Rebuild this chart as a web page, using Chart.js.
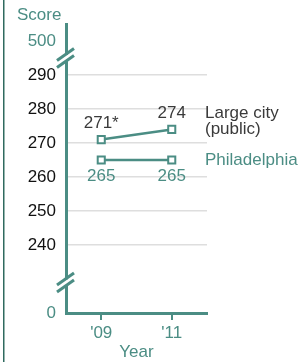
<!DOCTYPE html>
<html>
<head>
<meta charset="UTF-8">
<script src="https://cdn.jsdelivr.net/npm/chart.js@4"></script>
<style>
  html, body { margin: 0; padding: 0; background: #fff; }
  canvas { display: block; }
</style>
</head>
<body>
<canvas id="chart" width="301" height="362"></canvas>
<script>
// data
var years = [2009, 2011];
var yearLabels = ["'09", "'11"];
var largeCity = [271, 274];
var largeCityLabels = ['271*', '274'];
var philadelphia = [265, 265];
var philadelphiaLabels = ['265', '265'];
// y axis is broken: 220 stands for 0, 300 stands for 500
var yTicks = [220, 240, 250, 260, 270, 280, 290, 300];
var yTickText = { 220: '0', 300: '500' };
var breaks = [229, 295];

var teal = '#4b8d84';
var dark = '#3a3a3a';
var FONT = '"Liberation Sans", Arial, sans-serif';

var extras = {
  id: 'extras',
  beforeDraw: function(chart) {
    var c = chart.ctx;
    c.save();
    c.fillStyle = '#2f6a5f';
    c.fillRect(3, 0, 1.5, chart.height);
    c.restore();
  },
  afterDraw: function(chart) {
    var c = chart.ctx, xs = chart.scales.x, ys = chart.scales.y;
    var ax = chart.chartArea.left;
    c.save();
    // axis breaks
    breaks.forEach(function(v) {
      var y = ys.getPixelForValue(v);
      c.fillStyle = '#fff';
      c.fillRect(ax - 3, y - 3, 6, 6);
      c.strokeStyle = teal;
      c.lineWidth = 3;
      [-3.5, 3.5].forEach(function(o) {
        c.beginPath();
        c.moveTo(ax - 9, y + o + 6);
        c.lineTo(ax + 8, y + o - 6);
        c.stroke();
      });
    });
    c.font = '17px ' + FONT;
    c.textAlign = 'center';
    // value labels
    c.fillStyle = dark;
    c.textBaseline = 'bottom';
    years.forEach(function(yr, i) {
      c.fillText(largeCityLabels[i], xs.getPixelForValue(yr), ys.getPixelForValue(largeCity[i]) - 8);
    });
    c.fillStyle = teal;
    c.textBaseline = 'top';
    years.forEach(function(yr, i) {
      c.fillText(philadelphiaLabels[i], xs.getPixelForValue(yr), ys.getPixelForValue(philadelphia[i]) + 8);
    });
    // series names
    c.textAlign = 'left';
    c.textBaseline = 'middle';
    var lx = chart.chartArea.right - 2;
    var yl = ys.getPixelForValue(largeCity[largeCity.length - 1]);
    c.fillStyle = dark;
    c.fillText('Large city', lx, yl - 16);
    c.fillText('(public)', lx, yl);
    c.fillStyle = teal;
    c.fillText('Philadelphia', lx, ys.getPixelForValue(philadelphia[philadelphia.length - 1]));
    // axis titles
    c.fillText('Score', 17, 15);
    c.textAlign = 'center';
    c.fillText('Year', (chart.chartArea.left + chart.chartArea.right) / 2, 352);
    c.restore();
  }
};

function series(vals) {
  return years.map(function(yr, i) { return { x: yr, y: vals[i] }; });
}

new Chart(document.getElementById('chart'), {
  type: 'line',
  data: {
    datasets: [
      { label: 'Large city (public)', data: series(largeCity) },
      { label: 'Philadelphia', data: series(philadelphia) }
    ]
  },
  options: {
    responsive: false,
    animation: false,
    layout: { padding: { top: 24, right: 94, left: 0, bottom: 0 } },
    elements: {
      line: { borderColor: teal, borderWidth: 2.5, tension: 0 },
      point: { pointStyle: 'rect', radius: 5, borderWidth: 2, borderColor: teal, backgroundColor: '#fff' }
    },
    plugins: { legend: { display: false }, tooltip: { enabled: false } },
    scales: {
      x: {
        type: 'linear',
        min: 2008,
        max: 2012,
        afterBuildTicks: function(s) { s.ticks = years.map(function(v) { return { value: v }; }); },
        afterFit: function(s) { s.height = 49; },
        border: { color: teal, width: 3 },
        grid: { drawOnChartArea: false, drawTicks: true, tickLength: 7, color: teal, lineWidth: 2 },
        ticks: {
          padding: 3,
          color: teal,
          font: { size: 17, family: FONT },
          callback: function(v) { return yearLabels[years.indexOf(v)]; }
        }
      },
      y: {
        min: 220,
        max: 305,
        afterBuildTicks: function(s) { s.ticks = yTicks.map(function(v) { return { value: v }; }); },
        afterFit: function(s) { s.width = 66; },
        border: { color: teal, width: 3 },
        grid: {
          drawTicks: false,
          lineWidth: 1.5,
          color: function(ctx) { return (ctx.tick && yTickText[ctx.tick.value]) ? 'rgba(0,0,0,0)' : '#dedede'; }
        },
        ticks: {
          padding: 10,
          font: { size: 17, family: FONT },
          color: function(ctx) { return yTickText[ctx.tick.value] ? teal : '#111'; },
          callback: function(v) { return yTickText[v] || String(v); }
        }
      }
    }
  },
  plugins: [extras]
});
</script>
</body>
</html>
